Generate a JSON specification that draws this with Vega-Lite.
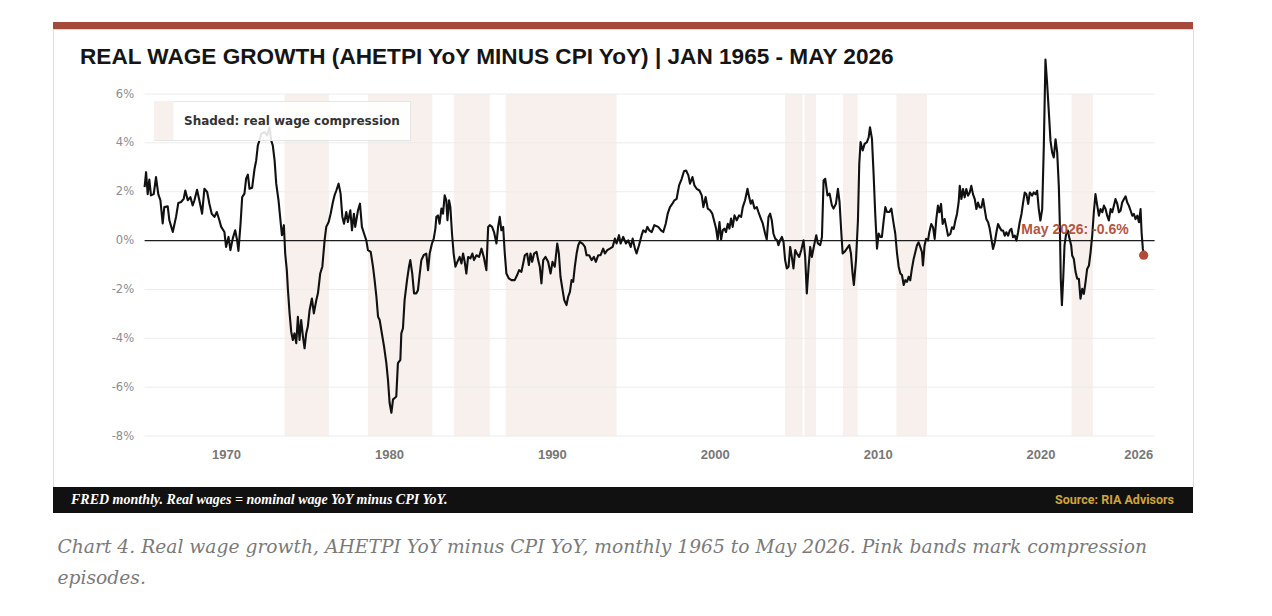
{
  "$schema": "https://vega.github.io/schema/vega-lite/v6.json",
  "background": "white",
  "padding": {"left": 52, "top": 22, "right": 10, "bottom": 10},
  "bounds": "flush",
  "spacing": 0,
  "config": {"view": {"stroke": null}},
  "title": {
    "text": ["Chart 4. Real wage growth, AHETPI YoY minus CPI YoY, monthly 1965 to May 2026. Pink bands mark compression", "episodes."],
    "orient": "bottom", "anchor": "start", "frame": "bounds", "dx": 5, "offset": 25,
    "baseline": "top", "font": "DejaVu Serif", "fontStyle": "italic", "fontWeight": "normal",
    "fontSize": 18.7, "color": "#7a7a7a", "lineHeight": 31
  },
  "datasets": {
    "bands": [
      {"start": 1973.59, "end": 1976.31}, {"start": 1978.71, "end": 1982.66}, {"start": 1984.0, "end": 1986.19},
      {"start": 1987.17, "end": 1993.97}, {"start": 2004.32, "end": 2005.39}, {"start": 2005.51, "end": 2006.21},
      {"start": 2007.87, "end": 2008.77}, {"start": 2011.15, "end": 2013.03}, {"start": 2021.9, "end": 2023.21}
    ],
    "grid": [{"level": -8}, {"level": -6}, {"level": -4}, {"level": -2}, {"level": 0}, {"level": 2}, {"level": 4}, {"level": 6}],
    "latest": [{"t": 2026.33, "v": -0.6, "note": "May 2026: -0.6%"}],
    "footer": [
      {"side": "start", "note": "FRED monthly. Real wages = nominal wage YoY minus CPI YoY."},
      {"side": "end", "note": "Source: RIA Advisors"}
    ],
    "wages": [
      {"t":1965.0,"v":2.19},{"t":1965.09,"v":2.8},{"t":1965.19,"v":1.9},{"t":1965.29,"v":2.5},{"t":1965.39,"v":1.85},
      {"t":1965.56,"v":1.9},{"t":1965.7,"v":2.6},{"t":1965.84,"v":1.9},{"t":1965.97,"v":1.65},{"t":1966.11,"v":0.7},
      {"t":1966.21,"v":1.37},{"t":1966.42,"v":1.4},{"t":1966.52,"v":0.83},{"t":1966.73,"v":0.35},{"t":1966.93,"v":0.97},
      {"t":1967.07,"v":1.54},{"t":1967.24,"v":1.58},{"t":1967.4,"v":1.71},{"t":1967.5,"v":2.05},{"t":1967.65,"v":1.65},
      {"t":1967.81,"v":1.78},{"t":1967.95,"v":1.44},{"t":1968.06,"v":1.65},{"t":1968.22,"v":2.08},{"t":1968.36,"v":1.65},
      {"t":1968.53,"v":1.1},{"t":1968.67,"v":2.12},{"t":1968.84,"v":1.99},{"t":1968.98,"v":1.5},{"t":1969.12,"v":1.1},
      {"t":1969.29,"v":0.97},{"t":1969.43,"v":1.17},{"t":1969.59,"v":0.83},{"t":1969.7,"v":0.56},{"t":1969.9,"v":0.35},
      {"t":1970.0,"v":-0.26},{"t":1970.15,"v":0.15},{"t":1970.27,"v":-0.39},{"t":1970.41,"v":0.08},{"t":1970.56,"v":0.42},
      {"t":1970.68,"v":0.01},{"t":1970.76,"v":-0.42},{"t":1970.89,"v":0.69},{"t":1970.99,"v":1.78},{"t":1971.13,"v":1.92},
      {"t":1971.23,"v":2.53},{"t":1971.34,"v":2.7},{"t":1971.44,"v":2.12},{"t":1971.6,"v":2.16},{"t":1971.75,"v":2.94},
      {"t":1971.85,"v":3.28},{"t":1971.95,"v":3.89},{"t":1972.05,"v":4.1},{"t":1972.16,"v":4.37},{"t":1972.36,"v":4.44},
      {"t":1972.52,"v":4.3},{"t":1972.67,"v":4.64},{"t":1972.77,"v":4.1},{"t":1972.87,"v":3.89},{"t":1972.98,"v":3.28},
      {"t":1973.08,"v":2.33},{"t":1973.22,"v":1.65},{"t":1973.34,"v":0.83},{"t":1973.43,"v":0.22},{"t":1973.55,"v":0.63},
      {"t":1973.63,"v":-0.53},{"t":1973.73,"v":-1.21},{"t":1973.8,"v":-2.03},{"t":1973.9,"v":-2.98},{"t":1974.0,"v":-3.73},
      {"t":1974.1,"v":-4.07},{"t":1974.2,"v":-3.8},{"t":1974.31,"v":-4.2},{"t":1974.41,"v":-3.12},{"t":1974.51,"v":-4.07},
      {"t":1974.61,"v":-3.25},{"t":1974.72,"v":-3.93},{"t":1974.82,"v":-4.41},{"t":1974.92,"v":-3.8},{"t":1975.02,"v":-3.52},
      {"t":1975.13,"v":-2.84},{"t":1975.27,"v":-2.37},{"t":1975.39,"v":-2.98},{"t":1975.54,"v":-2.44},{"t":1975.64,"v":-2.16},
      {"t":1975.78,"v":-1.35},{"t":1975.91,"v":-1.07},{"t":1976.05,"v":0.01},{"t":1976.15,"v":0.56},{"t":1976.3,"v":0.76},
      {"t":1976.42,"v":1.1},{"t":1976.56,"v":1.58},{"t":1976.66,"v":1.85},{"t":1976.77,"v":2.05},{"t":1976.91,"v":2.33},
      {"t":1977.03,"v":1.92},{"t":1977.14,"v":0.97},{"t":1977.24,"v":0.69},{"t":1977.38,"v":1.17},{"t":1977.48,"v":0.76},
      {"t":1977.63,"v":1.24},{"t":1977.73,"v":0.42},{"t":1977.85,"v":1.1},{"t":1977.93,"v":0.56},{"t":1978.1,"v":1.24},
      {"t":1978.22,"v":1.51},{"t":1978.34,"v":0.56},{"t":1978.47,"v":0.29},{"t":1978.61,"v":0.01},{"t":1978.71,"v":-0.39},
      {"t":1978.88,"v":-0.46},{"t":1979.02,"v":-1.07},{"t":1979.12,"v":-1.62},{"t":1979.23,"v":-2.3},{"t":1979.33,"v":-3.12},
      {"t":1979.43,"v":-3.25},{"t":1979.53,"v":-3.66},{"t":1979.7,"v":-4.34},{"t":1979.84,"v":-5.02},{"t":1979.94,"v":-5.7},
      {"t":1980.04,"v":-6.65},{"t":1980.15,"v":-7.05},{"t":1980.25,"v":-6.5},{"t":1980.35,"v":-6.45},{"t":1980.45,"v":-6.38},
      {"t":1980.55,"v":-5.02},{"t":1980.7,"v":-4.88},{"t":1980.76,"v":-3.8},{"t":1980.86,"v":-3.59},{"t":1980.96,"v":-2.44},
      {"t":1981.11,"v":-1.62},{"t":1981.23,"v":-1.07},{"t":1981.31,"v":-0.8},{"t":1981.43,"v":-1.35},{"t":1981.54,"v":-2.16},
      {"t":1981.68,"v":-2.16},{"t":1981.78,"v":-2.03},{"t":1981.88,"v":-1.41},{"t":1981.99,"v":-0.8},{"t":1982.13,"v":-0.6},
      {"t":1982.29,"v":-0.53},{"t":1982.4,"v":-1.21},{"t":1982.5,"v":-0.53},{"t":1982.64,"v":-0.12},{"t":1982.75,"v":0.08},
      {"t":1982.85,"v":0.49},{"t":1982.91,"v":0.97},{"t":1983.01,"v":1.03},{"t":1983.11,"v":0.69},{"t":1983.22,"v":1.31},
      {"t":1983.32,"v":1.1},{"t":1983.42,"v":1.85},{"t":1983.52,"v":1.65},{"t":1983.59,"v":0.83},{"t":1983.69,"v":1.65},
      {"t":1983.77,"v":1.37},{"t":1983.87,"v":0.29},{"t":1983.97,"v":-0.53},{"t":1984.08,"v":-1.07},{"t":1984.2,"v":-0.87},
      {"t":1984.34,"v":-0.67},{"t":1984.45,"v":-0.94},{"t":1984.55,"v":-0.53},{"t":1984.65,"v":-0.87},{"t":1984.75,"v":-1.35},
      {"t":1984.86,"v":-0.67},{"t":1985.0,"v":-0.73},{"t":1985.12,"v":-0.53},{"t":1985.22,"v":-0.8},{"t":1985.37,"v":-0.6},
      {"t":1985.53,"v":-0.67},{"t":1985.68,"v":-0.33},{"t":1985.82,"v":-0.67},{"t":1985.98,"v":-1.21},{"t":1986.09,"v":0.56},
      {"t":1986.19,"v":0.63},{"t":1986.33,"v":0.56},{"t":1986.45,"v":0.35},{"t":1986.6,"v":-0.12},{"t":1986.7,"v":0.56},
      {"t":1986.8,"v":0.97},{"t":1986.9,"v":0.42},{"t":1987.01,"v":0.56},{"t":1987.11,"v":-0.53},{"t":1987.21,"v":-1.35},
      {"t":1987.36,"v":-1.55},{"t":1987.52,"v":-1.62},{"t":1987.72,"v":-1.62},{"t":1987.87,"v":-1.41},{"t":1987.99,"v":-1.21},
      {"t":1988.13,"v":-1.28},{"t":1988.24,"v":-0.94},{"t":1988.34,"v":-0.6},{"t":1988.48,"v":-0.53},{"t":1988.59,"v":-1.0},
      {"t":1988.69,"v":-0.53},{"t":1988.79,"v":-0.87},{"t":1988.91,"v":-0.53},{"t":1989.06,"v":-0.46},{"t":1989.16,"v":-0.8},
      {"t":1989.26,"v":-1.07},{"t":1989.36,"v":-1.75},{"t":1989.47,"v":-0.8},{"t":1989.61,"v":-0.67},{"t":1989.77,"v":-0.87},
      {"t":1989.92,"v":-1.35},{"t":1990.04,"v":-0.87},{"t":1990.18,"v":-1.07},{"t":1990.33,"v":-0.12},{"t":1990.43,"v":-0.53},
      {"t":1990.53,"v":-1.48},{"t":1990.66,"v":-2.03},{"t":1990.76,"v":-2.44},{"t":1990.9,"v":-2.64},{"t":1991.0,"v":-2.3},
      {"t":1991.11,"v":-2.1},{"t":1991.21,"v":-1.62},{"t":1991.31,"v":-1.69},{"t":1991.41,"v":-1.07},{"t":1991.52,"v":-0.53},
      {"t":1991.62,"v":-0.19},{"t":1991.72,"v":-0.05},{"t":1991.88,"v":-0.12},{"t":1992.03,"v":-0.26},{"t":1992.13,"v":-0.6},
      {"t":1992.29,"v":-0.6},{"t":1992.44,"v":-0.8},{"t":1992.58,"v":-0.67},{"t":1992.7,"v":-0.87},{"t":1992.85,"v":-0.6},
      {"t":1992.99,"v":-0.6},{"t":1993.15,"v":-0.33},{"t":1993.26,"v":-0.53},{"t":1993.4,"v":-0.39},{"t":1993.56,"v":-0.33},
      {"t":1993.73,"v":-0.26},{"t":1993.87,"v":0.08},{"t":1993.97,"v":-0.12},{"t":1994.12,"v":0.22},{"t":1994.22,"v":-0.12},
      {"t":1994.38,"v":0.15},{"t":1994.55,"v":-0.12},{"t":1994.69,"v":0.01},{"t":1994.84,"v":-0.26},{"t":1994.96,"v":0.08},
      {"t":1995.1,"v":-0.33},{"t":1995.2,"v":-0.53},{"t":1995.35,"v":-0.19},{"t":1995.51,"v":0.22},{"t":1995.61,"v":0.42},
      {"t":1995.76,"v":0.35},{"t":1995.86,"v":0.56},{"t":1995.98,"v":0.42},{"t":1996.13,"v":0.35},{"t":1996.29,"v":0.63},
      {"t":1996.53,"v":0.56},{"t":1996.7,"v":0.42},{"t":1996.84,"v":0.35},{"t":1996.99,"v":0.69},{"t":1997.11,"v":1.1},
      {"t":1997.25,"v":1.37},{"t":1997.4,"v":1.51},{"t":1997.52,"v":1.65},{"t":1997.66,"v":1.71},{"t":1997.81,"v":2.26},
      {"t":1997.97,"v":2.53},{"t":1998.11,"v":2.84},{"t":1998.24,"v":2.87},{"t":1998.38,"v":2.67},{"t":1998.48,"v":2.33},
      {"t":1998.63,"v":2.6},{"t":1998.75,"v":2.26},{"t":1998.89,"v":2.12},{"t":1999.06,"v":2.05},{"t":1999.2,"v":1.85},
      {"t":1999.3,"v":1.37},{"t":1999.44,"v":1.78},{"t":1999.57,"v":1.31},{"t":1999.71,"v":1.24},{"t":1999.85,"v":1.1},
      {"t":1999.98,"v":0.76},{"t":2000.08,"v":0.49},{"t":2000.18,"v":0.04},{"t":2000.29,"v":0.76},{"t":2000.39,"v":0.04},
      {"t":2000.49,"v":0.42},{"t":2000.59,"v":0.49},{"t":2000.69,"v":0.35},{"t":2000.8,"v":0.69},{"t":2000.9,"v":0.49},
      {"t":2001.0,"v":0.9},{"t":2001.1,"v":0.56},{"t":2001.21,"v":1.03},{"t":2001.35,"v":0.83},{"t":2001.49,"v":1.03},
      {"t":2001.62,"v":0.97},{"t":2001.72,"v":1.37},{"t":2001.86,"v":1.65},{"t":2002.01,"v":2.12},{"t":2002.11,"v":1.78},
      {"t":2002.21,"v":1.51},{"t":2002.31,"v":1.65},{"t":2002.44,"v":1.31},{"t":2002.58,"v":1.37},{"t":2002.68,"v":1.17},
      {"t":2002.83,"v":0.9},{"t":2002.95,"v":0.69},{"t":2003.09,"v":0.29},{"t":2003.19,"v":0.04},{"t":2003.3,"v":0.97},
      {"t":2003.4,"v":1.1},{"t":2003.5,"v":0.83},{"t":2003.6,"v":0.29},{"t":2003.71,"v":0.08},{"t":2003.83,"v":0.01},
      {"t":2003.91,"v":-0.19},{"t":2004.01,"v":0.01},{"t":2004.12,"v":0.15},{"t":2004.22,"v":-0.05},{"t":2004.32,"v":-0.8},
      {"t":2004.42,"v":-1.14},{"t":2004.53,"v":-1.07},{"t":2004.63,"v":-0.26},{"t":2004.73,"v":-0.67},{"t":2004.83,"v":-1.14},
      {"t":2004.94,"v":-0.39},{"t":2005.04,"v":-0.53},{"t":2005.18,"v":-0.67},{"t":2005.31,"v":-0.39},{"t":2005.45,"v":0.01},
      {"t":2005.55,"v":-0.67},{"t":2005.65,"v":-2.16},{"t":2005.76,"v":-1.07},{"t":2005.86,"v":-0.26},{"t":2005.96,"v":-0.67},
      {"t":2006.1,"v":-0.19},{"t":2006.23,"v":0.22},{"t":2006.33,"v":-0.12},{"t":2006.47,"v":-0.19},{"t":2006.58,"v":0.15},
      {"t":2006.68,"v":2.46},{"t":2006.78,"v":2.53},{"t":2006.92,"v":1.85},{"t":2007.05,"v":1.92},{"t":2007.19,"v":1.44},
      {"t":2007.29,"v":1.31},{"t":2007.44,"v":1.51},{"t":2007.56,"v":2.12},{"t":2007.66,"v":1.58},{"t":2007.76,"v":0.42},
      {"t":2007.85,"v":-0.53},{"t":2007.97,"v":-0.46},{"t":2008.11,"v":-0.33},{"t":2008.26,"v":-0.19},{"t":2008.36,"v":-0.53},
      {"t":2008.46,"v":-1.35},{"t":2008.54,"v":-1.82},{"t":2008.67,"v":-0.8},{"t":2008.79,"v":0.83},{"t":2008.87,"v":3.14},
      {"t":2008.95,"v":4.03},{"t":2009.08,"v":3.69},{"t":2009.2,"v":3.96},{"t":2009.34,"v":4.03},{"t":2009.45,"v":4.23},
      {"t":2009.53,"v":4.64},{"t":2009.65,"v":4.16},{"t":2009.75,"v":2.73},{"t":2009.85,"v":1.1},{"t":2009.96,"v":-0.33},
      {"t":2010.06,"v":0.29},{"t":2010.16,"v":0.15},{"t":2010.26,"v":0.15},{"t":2010.37,"v":0.83},{"t":2010.47,"v":1.37},
      {"t":2010.57,"v":1.17},{"t":2010.72,"v":1.17},{"t":2010.84,"v":1.31},{"t":2010.98,"v":0.69},{"t":2011.08,"v":0.29},
      {"t":2011.19,"v":-0.53},{"t":2011.29,"v":-1.07},{"t":2011.39,"v":-1.35},{"t":2011.49,"v":-1.41},{"t":2011.6,"v":-1.82},
      {"t":2011.7,"v":-1.62},{"t":2011.8,"v":-1.69},{"t":2011.9,"v":-1.48},{"t":2012.0,"v":-1.63},{"t":2012.1,"v":-1.16},
      {"t":2012.21,"v":-0.75},{"t":2012.31,"v":-0.48},{"t":2012.41,"v":-0.2},{"t":2012.51,"v":-0.07},{"t":2012.62,"v":-0.27},
      {"t":2012.72,"v":-0.48},{"t":2012.78,"v":-1.02},{"t":2012.88,"v":-0.2},{"t":2012.97,"v":0.07},{"t":2013.09,"v":0.0},
      {"t":2013.17,"v":0.34},{"t":2013.29,"v":0.68},{"t":2013.4,"v":0.54},{"t":2013.5,"v":0.07},{"t":2013.6,"v":0.88},
      {"t":2013.7,"v":1.43},{"t":2013.79,"v":1.16},{"t":2013.89,"v":1.5},{"t":2013.99,"v":0.68},{"t":2014.11,"v":0.88},
      {"t":2014.22,"v":0.54},{"t":2014.32,"v":0.2},{"t":2014.46,"v":0.27},{"t":2014.56,"v":0.54},{"t":2014.67,"v":0.48},
      {"t":2014.77,"v":0.82},{"t":2014.87,"v":1.09},{"t":2014.97,"v":1.56},{"t":2015.04,"v":2.24},{"t":2015.14,"v":1.7},
      {"t":2015.24,"v":2.11},{"t":2015.34,"v":1.77},{"t":2015.44,"v":2.11},{"t":2015.55,"v":1.84},{"t":2015.65,"v":1.97},
      {"t":2015.75,"v":2.24},{"t":2015.85,"v":1.9},{"t":2015.96,"v":1.7},{"t":2016.06,"v":1.29},{"t":2016.16,"v":1.56},
      {"t":2016.26,"v":1.36},{"t":2016.37,"v":1.36},{"t":2016.47,"v":1.7},{"t":2016.57,"v":1.29},{"t":2016.67,"v":0.88},
      {"t":2016.78,"v":0.75},{"t":2016.88,"v":0.48},{"t":2016.98,"v":0.07},{"t":2017.08,"v":-0.34},{"t":2017.19,"v":-0.07},
      {"t":2017.29,"v":0.34},{"t":2017.39,"v":0.68},{"t":2017.49,"v":0.54},{"t":2017.6,"v":0.41},{"t":2017.7,"v":0.41},
      {"t":2017.8,"v":0.2},{"t":2017.9,"v":0.34},{"t":2018.01,"v":0.2},{"t":2018.11,"v":0.41},{"t":2018.21,"v":0.48},
      {"t":2018.31,"v":0.14},{"t":2018.42,"v":0.2},{"t":2018.52,"v":0.0},{"t":2018.62,"v":0.34},{"t":2018.72,"v":0.75},
      {"t":2018.83,"v":1.09},{"t":2018.93,"v":1.56},{"t":2019.03,"v":1.97},{"t":2019.13,"v":1.9},{"t":2019.24,"v":1.5},
      {"t":2019.34,"v":1.97},{"t":2019.48,"v":1.84},{"t":2019.58,"v":1.97},{"t":2019.69,"v":1.9},{"t":2019.79,"v":2.04},
      {"t":2019.89,"v":1.29},{"t":2019.99,"v":0.82},{"t":2020.1,"v":1.29},{"t":2020.2,"v":3.88},{"t":2020.3,"v":7.41},
      {"t":2020.4,"v":6.46},{"t":2020.51,"v":5.24},{"t":2020.61,"v":4.08},{"t":2020.71,"v":3.61},{"t":2020.81,"v":3.4},
      {"t":2020.92,"v":4.15},{"t":2021.02,"v":3.61},{"t":2021.12,"v":2.24},{"t":2021.18,"v":0.75},{"t":2021.24,"v":-1.56},
      {"t":2021.31,"v":-2.65},{"t":2021.39,"v":-1.56},{"t":2021.47,"v":-0.2},{"t":2021.57,"v":0.27},{"t":2021.67,"v":0.41},
      {"t":2021.78,"v":0.07},{"t":2021.88,"v":-0.2},{"t":2021.94,"v":-0.61},{"t":2022.04,"v":-0.75},{"t":2022.15,"v":-1.29},
      {"t":2022.25,"v":-1.56},{"t":2022.35,"v":-1.56},{"t":2022.45,"v":-2.38},{"t":2022.56,"v":-1.97},{"t":2022.66,"v":-2.18},
      {"t":2022.76,"v":-1.7},{"t":2022.86,"v":-1.16},{"t":2022.97,"v":-1.02},{"t":2023.07,"v":-0.48},{"t":2023.17,"v":0.2},
      {"t":2023.27,"v":1.16},{"t":2023.37,"v":1.9},{"t":2023.48,"v":1.43},{"t":2023.58,"v":1.02},{"t":2023.68,"v":1.29},
      {"t":2023.79,"v":1.16},{"t":2023.89,"v":1.43},{"t":2023.99,"v":1.29},{"t":2024.09,"v":1.02},{"t":2024.19,"v":0.82},
      {"t":2024.3,"v":1.29},{"t":2024.4,"v":1.16},{"t":2024.5,"v":1.43},{"t":2024.6,"v":1.7},{"t":2024.71,"v":1.5},
      {"t":2024.81,"v":1.16},{"t":2024.91,"v":1.22},{"t":2025.01,"v":1.56},{"t":2025.12,"v":1.7},{"t":2025.22,"v":1.81},
      {"t":2025.32,"v":1.56},{"t":2025.42,"v":1.43},{"t":2025.53,"v":1.22},{"t":2025.63,"v":1.02},{"t":2025.73,"v":1.09},
      {"t":2025.83,"v":0.88},{"t":2025.94,"v":1.02},{"t":2026.04,"v":0.75},{"t":2026.14,"v":1.29},{"t":2026.2,"v":0.34},
      {"t":2026.28,"v":-0.34},{"t":2026.33,"v":-0.6}
    ]
  },
  "vconcat": [
    {
      "width": 1140, "height": 7,
      "view": {"fill": "#a5493a", "stroke": null},
      "data": {"values": [{"part": "card top"}]},
      "mark": {"type": "rect", "color": "#a5493a"},
      "encoding": {}
    },
    {
      "width": 1140, "height": 458,
      "view": {"fill": "white", "stroke": "#dddddd", "strokeWidth": 1},
      "title": {
        "text": "REAL WAGE GROWTH (AHETPI YoY MINUS CPI YoY) | JAN 1965 - MAY 2026",
        "anchor": "start", "frame": "group", "orient": "top", "offset": -51, "dx": 27,
        "baseline": "middle", "font": "Liberation Sans", "fontSize": 22.6, "fontWeight": "bold", "color": "#151515"
      },
      "layer": [
        {
          "data": {"name": "bands"},
          "mark": {"type": "rect", "opacity": 1},
          "encoding": {
            "x": {
              "field": "start", "type": "quantitative", "title": null,
              "scale": {"domain": [1965, 2027], "range": [91.6, 1101.6], "nice": false, "zero": false},
              "axis": {
                "orient": "bottom", "offset": -51, "values": [1970, 1980, 1990, 2000, 2010, 2020, 2026], "format": "d",
                "domain": false, "ticks": false, "grid": false, "labelPadding": 12, "labelFlush": false, "labelOverlap": false,
                "labelFont": "Liberation Sans", "labelFontWeight": "bold", "labelFontSize": 13, "labelColor": "#777777", "title": null
              }
            },
            "x2": {"field": "end"},
            "y": {
              "datum": 6, "type": "quantitative", "title": null,
              "scale": {"domain": [-8, 6], "range": [407, 65], "nice": false, "zero": false},
              "axis": {
                "orient": "left", "offset": -91.6, "values": [-8, -6, -4, -2, 0, 2, 4, 6], "labelExpr": "datum.value + '%'",
                "domain": false, "ticks": false, "grid": false, "labelPadding": 11,
                "labelFont": "DejaVu Sans", "labelFontSize": 11.5, "labelColor": "#8a8d94", "title": null
              }
            },
            "y2": {"datum": -8},
            "color": {
              "datum": "Shaded: real wage compression", "type": "nominal",
              "scale": {"range": ["#f7f0ed"]},
              "legend": {
                "orient": "none", "legendX": 101, "legendY": 79, "title": null, "padding": 0,
                "symbolType": "M-1,-1H0V1H-1Z", "symbolSize": 1521, "symbolStrokeWidth": 0,
                "labelOffset": -9, "labelFont": "DejaVu Sans", "labelFontSize": 12, "labelFontWeight": "bold",
                "labelColor": "#333333", "labelLimit": 400, "labelExpr": "datum.label + '\u2800'",
                "fillColor": "rgba(255,255,255,0.88)", "strokeColor": "#e6e6e6",
                "encode": {"symbols": {"update": {"fill": {"value": "#ecdcd7"}, "opacity": {"value": 1}}}}
              }
            }
          }
        },
        {
          "data": {"name": "grid"},
          "transform": [{"filter": "datum.level !== 0"}],
          "mark": {"type": "rule", "color": "#ececec", "strokeWidth": 1},
          "encoding": {
            "y": {"field": "level", "type": "quantitative", "title": null},
            "x": {"datum": 1965, "type": "quantitative"},
            "x2": {"datum": 2027}
          }
        },
        {
          "data": {"name": "grid"},
          "transform": [{"filter": "datum.level === 0"}],
          "mark": {"type": "rule", "color": "#1e1e1e", "strokeWidth": 1.3},
          "encoding": {
            "y": {"field": "level", "type": "quantitative", "title": null},
            "x": {"datum": 1965, "type": "quantitative"},
            "x2": {"datum": 2027}
          }
        },
        {
          "data": {"name": "wages"},
          "mark": {"type": "line", "color": "#111111", "strokeWidth": 2.1, "strokeJoin": "round"},
          "encoding": {
            "x": {"field": "t", "type": "quantitative", "title": null},
            "y": {"field": "v", "type": "quantitative", "title": null}
          }
        },
        {
          "data": {"name": "latest"},
          "mark": {"type": "circle", "color": "#b24b37", "size": 85, "opacity": 1},
          "encoding": {
            "x": {"field": "t", "type": "quantitative", "title": null},
            "y": {"field": "v", "type": "quantitative", "title": null}
          }
        },
        {
          "data": {"name": "latest"},
          "mark": {"type": "text", "align": "right", "baseline": "middle", "dx": -15, "dy": -25,
                   "font": "Liberation Sans", "fontWeight": "bold", "fontSize": 14, "color": "#b5553f"},
          "encoding": {
            "x": {"field": "t", "type": "quantitative", "title": null},
            "y": {"field": "v", "type": "quantitative", "title": null},
            "text": {"field": "note"}
          }
        }
      ]
    },
    {
      "width": 1140, "height": 26,
      "view": {"fill": "#111111", "stroke": null},
      "data": {"name": "footer"},
      "layer": [
        {
          "transform": [{"filter": "datum.side === 'start'"}],
          "mark": {"type": "text", "align": "left", "baseline": "middle", "dx": 18,
                   "font": "Liberation Serif", "fontStyle": "italic", "fontWeight": "bold", "fontSize": 14, "color": "#ffffff"},
          "encoding": {
            "x": {"field": "side", "type": "nominal", "axis": null,
                  "scale": {"type": "point", "domain": ["start", "end"], "padding": 0}},
            "text": {"field": "note"}
          }
        },
        {
          "transform": [{"filter": "datum.side === 'end'"}],
          "mark": {"type": "text", "align": "right", "baseline": "middle", "dx": -19,
                   "font": "Roboto", "fontWeight": "bold", "fontSize": 12.5, "color": "#cfa43c"},
          "encoding": {
            "x": {"field": "side", "type": "nominal", "axis": null},
            "text": {"field": "note"}
          }
        }
      ]
    }
  ]
}
